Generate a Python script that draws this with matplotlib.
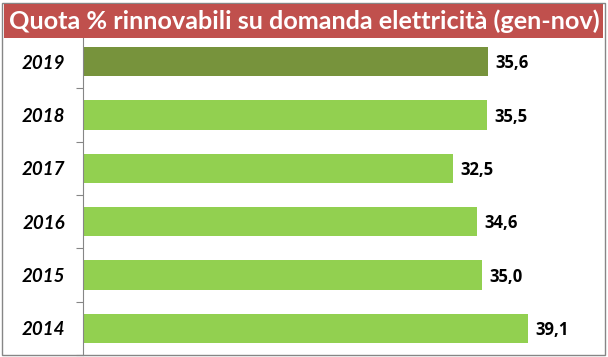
import matplotlib.pyplot as plt
from matplotlib.patches import Rectangle

years = ['2019', '2018', '2017', '2016', '2015', '2014']
share = [35.6, 35.5, 32.5, 34.6, 35.0, 39.1]
colors = ['#77933C', '#92D050', '#92D050', '#92D050', '#92D050', '#92D050']
title = 'Quota % rinnovabili su domanda elettricità (gen-nov)'

plt.rcParams['font.family'] = ['Lato', 'DejaVu Sans']

fig = plt.figure(figsize=(6.08, 3.57), dpi=100)
W, H = 608, 357
ax = fig.add_axes([83 / W, 2 / H, (600 - 83) / W, 320 / H])

pos = list(range(len(years)))
ax.barh(pos, share, height=0.55, color=colors)
ax.set_ylim(len(years) - 0.5, -0.5)
ax.set_xlim(0, 45.4)

for p, v in zip(pos, share):
    ax.text(v + 0.65, p + 0.03, f'{v:.1f}'.replace('.', ','), va='center', ha='left',
            fontsize=12, fontweight='bold', color='black', family='Open Sans')

ax.set_yticks([i + 0.5 for i in range(-1, len(years))])
ax.set_yticklabels([])
ax.tick_params(axis='y', length=5, color='#868686', direction='out')
ax.set_yticks(pos, minor=True)
ax.set_yticklabels(years, minor=True, fontsize=13.5, fontweight='bold', fontstyle='italic')
ax.tick_params(axis='y', which='minor', length=0, pad=13)
ax.set_xticks([])
for s in ['top', 'right', 'bottom']:
    ax.spines[s].set_visible(False)
ax.spines['left'].set_color('#868686')

# outer frame and title banner
fig.patches.append(Rectangle((2 / W, 2 / H), 603 / W, 352 / H, transform=fig.transFigure,
                             fill=False, edgecolor='#868686', linewidth=1))
fig.patches.append(Rectangle((4 / W, (H - 38) / H), 599 / W, 34 / H, transform=fig.transFigure,
                             facecolor='#C0504D', edgecolor='none', zorder=5))
fig.text(0.5, (H - 21) / H, title, ha='center', va='center', color='white',
         fontsize=18.2, fontweight='bold', zorder=6)

fig.savefig('out.png', dpi=100)
